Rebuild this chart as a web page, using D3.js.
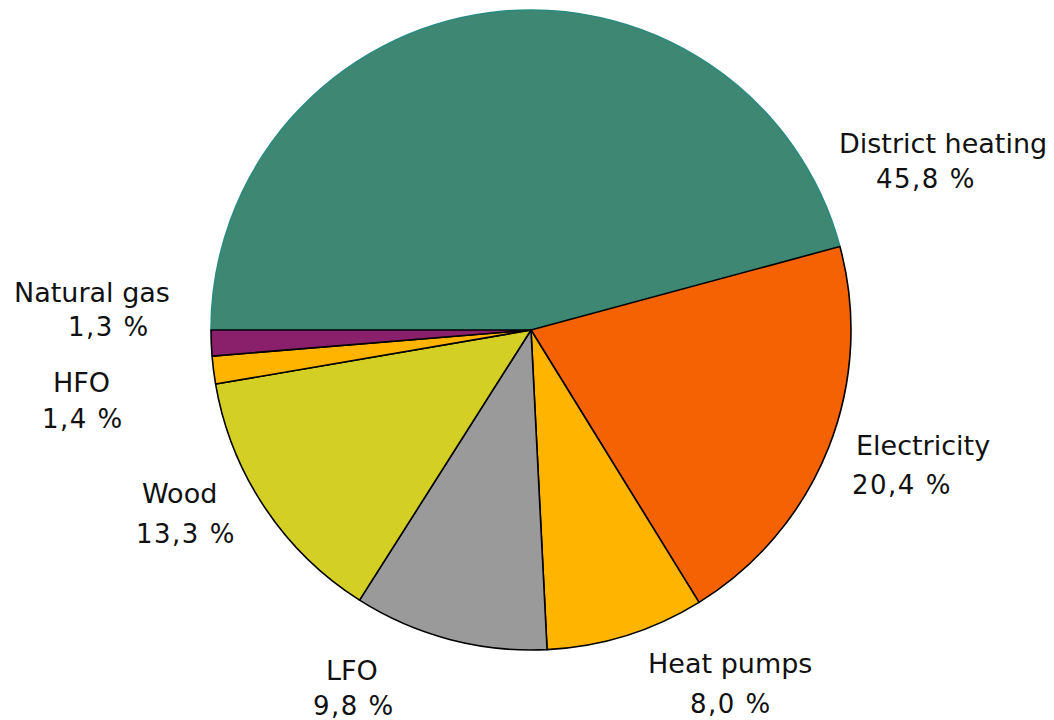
<!DOCTYPE html>
<html>
<head>
<meta charset="utf-8">
<script src="https://cdn.jsdelivr.net/npm/d3@7"></script>
<style>
  html, body { margin: 0; padding: 0; background: #ffffff; }
  svg { display: block; }
</style>
</head>
<body>
<svg id="chart" width="1054" height="720"></svg>
<script>
// Data
const categories = ["District heating", "Electricity", "Heat pumps", "LFO", "Wood", "HFO", "Natural gas"];
const shares = [45.8, 20.4, 8.0, 9.8, 13.3, 1.4, 1.3];
const percentLabels = ["45,8 %", "20,4 %", "8,0 %", "9,8 %", "13,3 %", "1,4 %", "1,3 %"];

// Styles
const colors = ["#3e8772", "#f46203", "#ffb400", "#9a9a9a", "#d3cf24", "#ffb400", "#8a1f6c"];
const strokes = ["#2b8a80", "#000", "#000", "#000", "#000", "#000", "#000"];

// Label layout (left x and baselines for name line and percent line)
const labelLayout = [
  { nx: 839, ny: 153, px: 876, py: 188 },
  { nx: 856, ny: 455, px: 852, py: 494 },
  { nx: 648, ny: 673, px: 690, py: 713 },
  { nx: 326, ny: 680, px: 313, py: 715 },
  { nx: 142, ny: 503, px: 136, py: 543 },
  { nx: 53,  ny: 392, px: 42,  py: 428 },
  { nx: 14,  ny: 302, px: 68,  py: 336 }
];

const svg = d3.select("#chart");
const cx = 531, cy = 330, r = 320;

const data = categories.map((c, i) => ({ name: c, value: shares[i], pct: percentLabels[i], i }));

const pie = d3.pie()
  .value(d => d.value)
  .sort(null)
  .startAngle(-Math.PI / 2)
  .endAngle(3 * Math.PI / 2);

const arc = d3.arc().innerRadius(0).outerRadius(r);

const g = svg.append("g").attr("transform", `translate(${cx},${cy})`);

g.selectAll("path")
  .data(pie(data))
  .join("path")
  .attr("d", arc)
  .attr("fill", d => colors[d.data.i])
  .attr("stroke", d => strokes[d.data.i])
  .attr("stroke-width", 1.6)
  .attr("stroke-linejoin", "round");

const labels = svg.append("g")
  .attr("font-family", "'DejaVu Sans', Verdana, sans-serif")
  .attr("fill", "#111");

data.forEach((d, i) => {
  const L = labelLayout[i];
  labels.append("text")
    .attr("x", L.nx).attr("y", L.ny)
    .attr("font-size", 27)
    .text(d.name);
  labels.append("text")
    .attr("x", L.px).attr("y", L.py)
    .attr("font-size", 26)
    .attr("letter-spacing", 1.5)
    .text(d.pct);
});
</script>
</body>
</html>
